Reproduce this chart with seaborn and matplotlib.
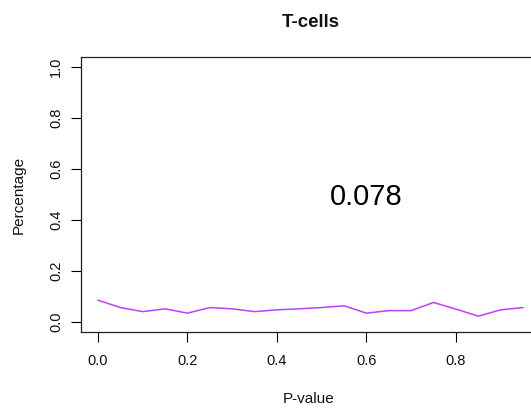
import numpy as np
import pandas as pd
import matplotlib
matplotlib.use("Agg")
import matplotlib.pyplot as plt
import seaborn as sns

# P-value bins and the percentage of T-cell tests falling in each
p_values = [0.00, 0.05, 0.10, 0.15, 0.20, 0.25, 0.30, 0.35, 0.40, 0.45,
            0.50, 0.55, 0.60, 0.65, 0.70, 0.75, 0.80, 0.85, 0.90, 0.95]
percentage = [0.085, 0.056, 0.040, 0.051, 0.034, 0.056, 0.051, 0.040, 0.047, 0.051,
              0.056, 0.063, 0.034, 0.044, 0.044, 0.076, 0.050, 0.022, 0.047, 0.056]
x_ticks = [0.0, 0.2, 0.4, 0.6, 0.8]
y_ticks = [0.0, 0.2, 0.4, 0.6, 0.8, 1.0]
annotation = "0.078"
title = "T-cells"

sns.set_style("white")
plt.rcParams["font.family"] = ["Liberation Sans", "DejaVu Sans"]

W, H = 531, 408
fig = plt.figure(figsize=(W / 100, H / 100), dpi=100)
# plot region in pixels: left 81, right 540 (runs past the canvas edge), top 57, bottom 332
ax = fig.add_axes([81 / W, 1 - 332 / H, (540 - 81) / W, (332 - 57) / H])

df = pd.DataFrame({"P-value": p_values, "Percentage": percentage})
sns.lineplot(data=df, x="P-value", y="Percentage", ax=ax, color="#bf3eff",
             linewidth=1.1, estimator=None, sort=False)

xmin, xmax = min(p_values), max(p_values)
xpad = (xmax - xmin) * 0.04
ax.set_xlim(xmin - xpad, xmax + xpad)
ax.set_ylim(-0.04, 1.04)
ax.set_xticks(x_ticks)
ax.set_xticklabels([f"{v:.1f}" for v in x_ticks])
ax.set_yticks(y_ticks)
ax.set_yticklabels([f"{v:.1f}" for v in y_ticks], rotation=90, va="center")

for s in ax.spines.values():
    s.set_visible(True)
    s.set_color("#202020")
    s.set_linewidth(0.9)

ax.tick_params(axis="both", direction="out", length=7.2, width=0.8, color="black",
               labelsize=10.5, labelcolor="#111111")
ax.tick_params(axis="x", pad=8.5, bottom=True)
ax.tick_params(axis="y", pad=5.5, left=True)

ax.set_xlabel("P-value", fontsize=11, color="#111111")
ax.set_ylabel("Percentage", fontsize=11, color="#111111")
ax.xaxis.set_label_coords(0.497, (332 - 399) / 275)
ax.xaxis.label.set_va("center")
ax.yaxis.set_label_coords((19 - 81) / 459, 0.5)
ax.yaxis.label.set_va("center")
ax.yaxis.label.set_ha("center")

ax.set_title(title, fontsize=13.4, fontweight="bold", y=1 + 30 / 275, pad=0,
             color="#111111")

ax.text(0.6, 0.49, annotation, fontsize=21, ha="center", va="center",
        color="black")

fig.savefig("out.png", dpi=100)
